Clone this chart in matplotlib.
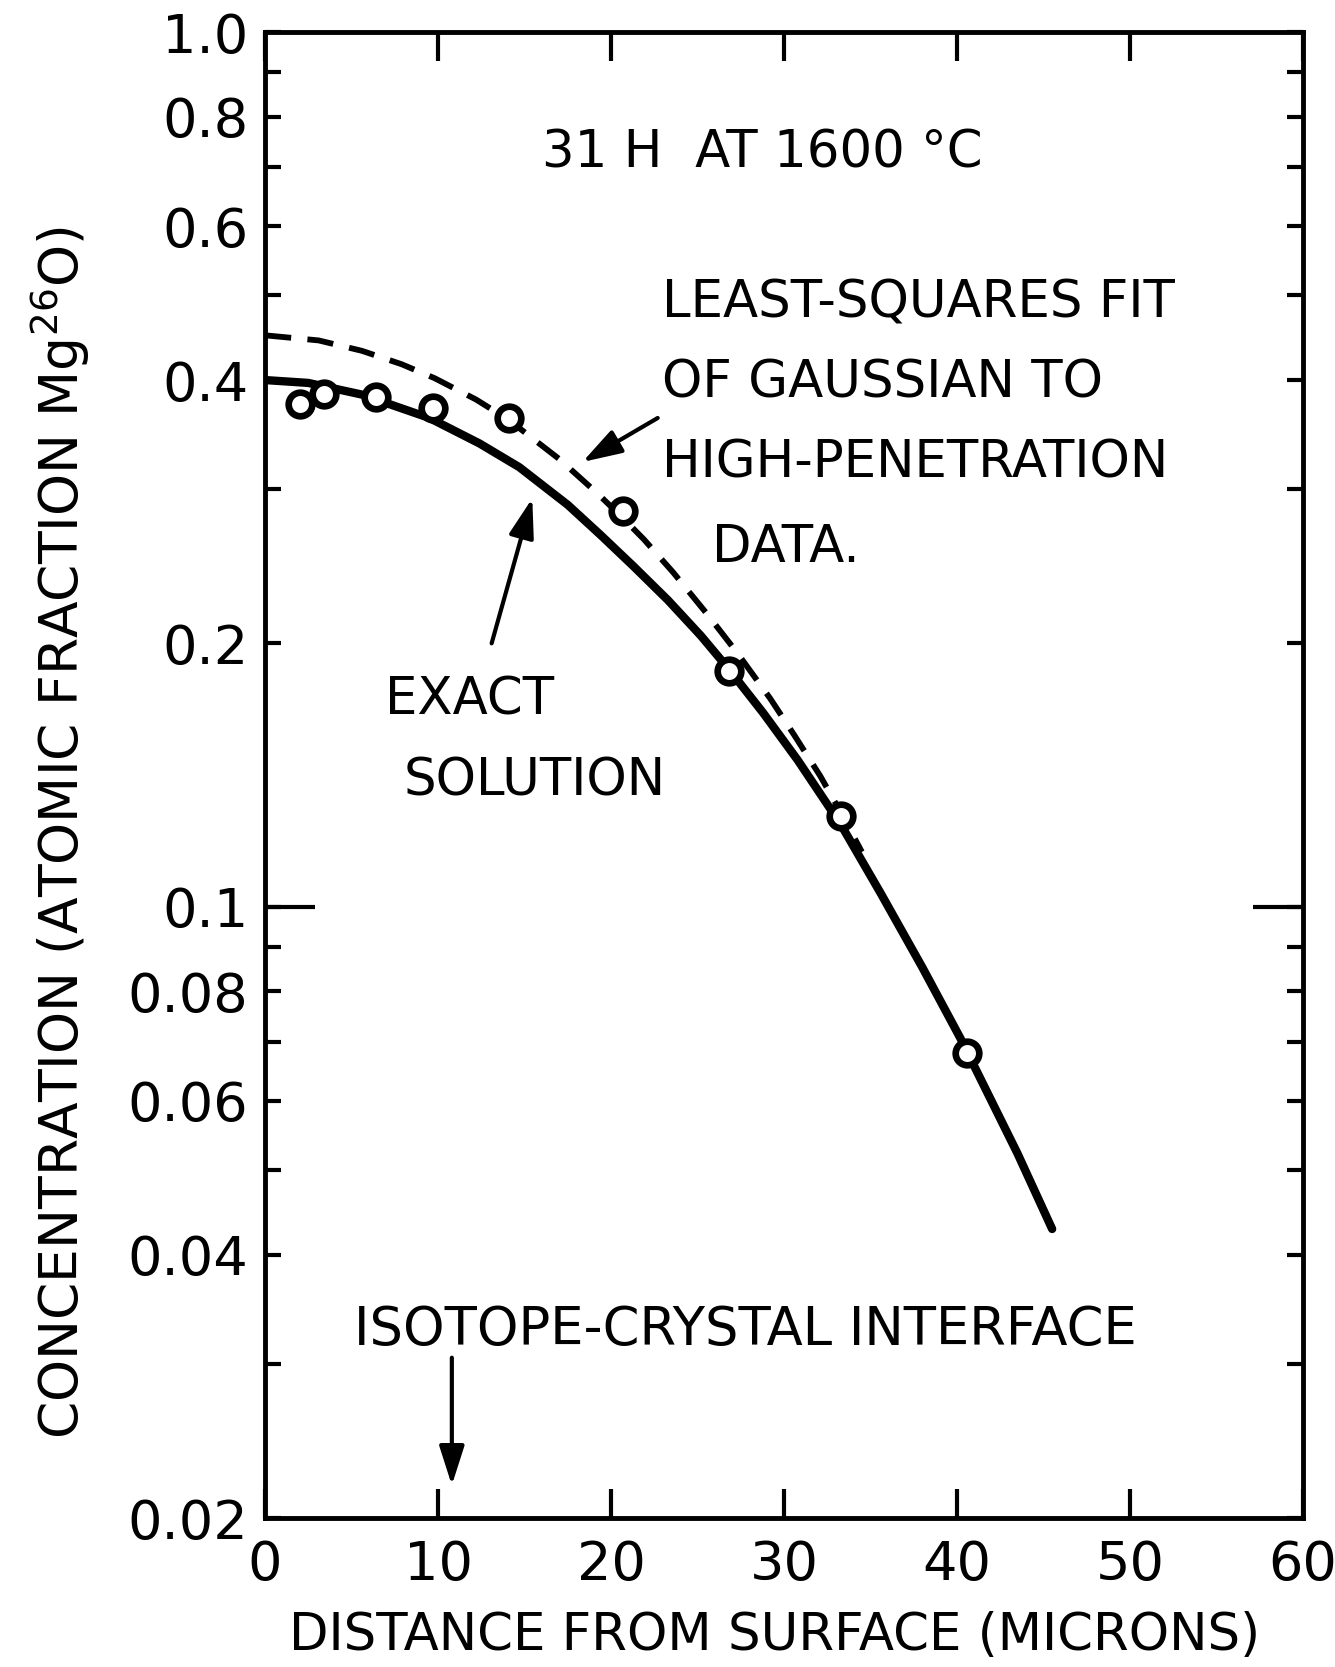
import matplotlib
matplotlib.use("Agg")
import matplotlib.pyplot as plt
from matplotlib.ticker import FixedLocator, FixedFormatter, NullFormatter

plt.rcParams['font.family'] = ['DejaVu Sans']

# ---------------- data ----------------
data_x = [2.0, 3.4, 6.4, 9.7, 14.1, 20.7, 26.8, 33.3, 40.6]
data_c = [0.376, 0.386, 0.383, 0.372, 0.362, 0.283, 0.186, 0.127, 0.068]

exact_x = [0, 2.5, 5.6, 9.5, 12.4, 14.7, 17.5, 19.4, 21.3, 23.3, 25.2, 26.8,
           28.8, 30.8, 33.3, 35.6, 38.0, 40.2, 43.5, 45.5]
exact_c = [0.400, 0.397, 0.385, 0.362, 0.3385, 0.318, 0.288, 0.266, 0.245, 0.224,
           0.204, 0.187, 0.1665, 0.147, 0.124, 0.1035, 0.0852, 0.0707, 0.0522, 0.0428]

gauss_x = [0, 3.1, 5.6, 7.9, 9.8, 12.2, 14.1, 17.0, 19.2, 20.7, 21.9, 23.6,
           25.6, 27.3, 29.2, 30.6, 32.1, 33.3, 34.5]
gauss_c = [0.450, 0.444, 0.432, 0.417, 0.402, 0.380, 0.360, 0.325, 0.297, 0.278,
           0.263, 0.241, 0.2155, 0.195, 0.173, 0.157, 0.141, 0.128, 0.1155]

x_ticks = [0, 10, 20, 30, 40, 50, 60]
x_labels = ['0', '10', '20', '30', '40', '50', '60']
y_ticks = [0.02, 0.04, 0.06, 0.08, 0.1, 0.2, 0.4, 0.6, 0.8, 1.0]
y_labels = ['0.02', '0.04', '0.06', '0.08', '0.1', '0.2', '0.4', '0.6', '0.8', '1.0']
y_minor = [0.03, 0.05, 0.07, 0.09, 0.3, 0.5, 0.7, 0.9]

# ---------------- figure ----------------
W, H = 1335, 1667
fig = plt.figure(figsize=(W / 100, H / 100), dpi=100)
fig.patch.set_facecolor('white')


def fx(px):
    return px / W


def fy(py):
    return 1 - py / H


ax = fig.add_axes([fx(265), fy(1518), fx(1303) - fx(265), fy(32) - fy(1518)])
ax.set_yscale('log')
ax.set_xlim(0, 60)
ax.set_ylim(0.02, 1.0)

for s in ax.spines.values():
    s.set_linewidth(3.5)

ax.xaxis.set_major_locator(FixedLocator(x_ticks))
ax.xaxis.set_major_formatter(FixedFormatter(x_labels))
ax.yaxis.set_major_locator(FixedLocator(y_ticks))
ax.yaxis.set_major_formatter(FixedFormatter(y_labels))
ax.yaxis.set_minor_locator(FixedLocator(y_minor))
ax.yaxis.set_minor_formatter(NullFormatter())
ax.xaxis.set_minor_locator(FixedLocator([]))

ax.tick_params(axis='x', which='major', direction='in', length=21, width=3,
               top=True, bottom=True, labelsize=39, pad=15)
ax.tick_params(axis='y', which='both', direction='in', length=11.5, width=3,
               left=True, right=True, labelsize=39, pad=12)

# long tick marks at 0.1 on both sides
ytr = ax.get_yaxis_transform()
ax.plot([0, 0.048], [0.1, 0.1], transform=ytr, color='black', lw=3,
        solid_capstyle='butt', clip_on=False)
ax.plot([0.952, 1.0], [0.1, 0.1], transform=ytr, color='black', lw=3,
        solid_capstyle='butt', clip_on=False)

# curves
ax.plot(exact_x, exact_c, color='black', lw=6, solid_capstyle='round',
        solid_joinstyle='round', zorder=3)
ax.plot(gauss_x, gauss_c, color='black', lw=4.2, dashes=(4.5, 2.8), zorder=3)
ax.plot(data_x, data_c, linestyle='none', marker='o', ms=17, mew=4.8,
        mfc='white', mec='black', zorder=4)

# ---------------- text ----------------
tk = dict(color='black', fontsize=37)
fig.text(fx(762), fy(167), '31 H  AT 1600 °C', ha='center', va='baseline',
         color='black', fontsize=37)
fig.text(fx(662), fy(318), 'LEAST-SQUARES FIT', ha='left', va='baseline', **tk)
fig.text(fx(662), fy(397), 'OF GAUSSIAN TO', ha='left', va='baseline', **tk)
fig.text(fx(662), fy(477), 'HIGH-PENETRATION', ha='left', va='baseline', **tk)
fig.text(fx(712), fy(562), 'DATA.', ha='left', va='baseline', **tk)
fig.text(fx(385), fy(714), 'EXACT', ha='left', va='baseline', **tk)
fig.text(fx(404), fy(795), 'SOLUTION', ha='left', va='baseline', **tk)
fig.text(fx(354), fy(1345), 'ISOTOPE-CRYSTAL INTERFACE', ha='left',
         va='baseline', color='black', fontsize=38)

fig.text(fx(775), fy(1650), 'DISTANCE FROM SURFACE (MICRONS)', ha='center',
         va='baseline', color='black', fontsize=37)
fig.text(fx(60), fy(833), r'CONCENTRATION (ATOMIC FRACTION Mg$^{26}$O)',
         ha='center', va='center', rotation=90, color='black', fontsize=38.5)

# ---------------- arrows ----------------
ap = dict(arrowstyle='-|>,head_length=1.0,head_width=0.32', color='black',
          lw=3, mutation_scale=24, shrinkA=0, shrinkB=0)
ax.annotate('', xy=(18.35, 0.3224), xytext=(22.7, 0.362),
            arrowprops=ap)
ax.annotate('', xy=(15.45, 0.293), xytext=(13.1, 0.200),
            arrowprops=ap)
ax.annotate('', xy=(10.8, 0.0218), xytext=(10.8, 0.0305),
            arrowprops=ap)

fig.savefig('out.png', dpi=100, facecolor='white')
